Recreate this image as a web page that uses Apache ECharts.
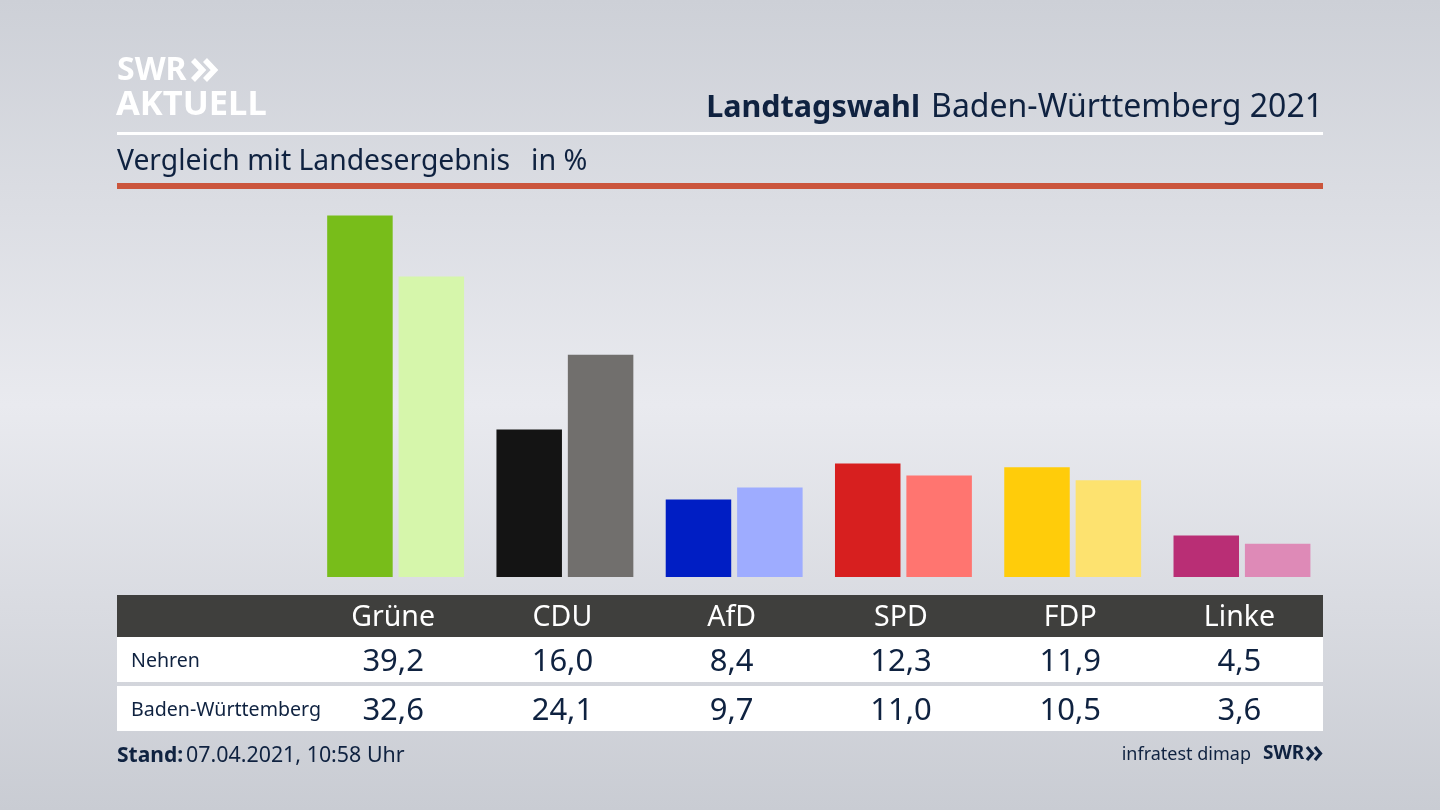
<!DOCTYPE html>
<html><head><meta charset="utf-8">
<style>html,body{margin:0;padding:0;background:#d8dae0}#c{width:1440px;height:810px}</style>
<script src="https://cdn.jsdelivr.net/npm/echarts@6/dist/echarts.min.js"></script>
</head><body><div id="c"></div>
<script>
const parties = ['Grüne','CDU','AfD','SPD','FDP','Linke'];
const nehren = [39.2,16.0,8.4,12.3,11.9,4.5];
const land = [32.6,24.1,9.7,11.0,10.5,3.6];
const nehrenColors = ['#78bd1a','#141414','#001ec4','#d71f1f','#ffcc0a','#b92e75'];
const landColors = ['#d6f6ab','#716f6d','#9eacff','#ff7570','#fde26f','#de8ab7'];
const rowNames = ['Nehren','Baden-Württemberg'];
const FONT = '"Noto Sans", sans-serif';
const NAVY = '#0f2240';
const fmt = v => v.toFixed(1).replace('.', ',');

const chart = echarts.init(document.getElementById('c'), null, {renderer:'canvas', width:1440, height:810});
const option = {
  animation:false,
  backgroundColor:{type:'linear',x:0,y:0,x2:0,y2:1,colorStops:[
    {offset:0,color:'#cdd0d7'},{offset:0.5,color:'#e9eaef'},{offset:1,color:'#c9ccd3'}]},
  grid:{left:311,right:113.4,top:208.2,bottom:233},
  xAxis:{type:'category',data:parties,show:false},
  yAxis:{type:'value',min:0,max:40,show:false},
  series:[
    {name:rowNames[0],type:'bar',barWidth:65.5,barGap:'9%',data:nehren.map((v,i)=>({value:v,itemStyle:{color:nehrenColors[i]}}))},
    {name:rowNames[1],type:'bar',barWidth:65.5,data:land.map((v,i)=>({value:v,itemStyle:{color:landColors[i]}}))}
  ]
};
chart.setOption(option);

const rect=(x,y,w,h,fill)=>({type:'rect',silent:true,shape:{x,y,width:w,height:h},style:{fill}});
const text=(t,x,y,size,fill,align,weight)=>({type:'text',silent:true,x,y,style:{text:t,fill,font:(weight||'normal')+' '+size+'px '+FONT,textAlign:align||'left',textVerticalAlign:'middle'}});
const chev=(x,y,h,w,color,lw)=>({type:'polyline',silent:true,shape:{points:[[x,y],[x+w,y+h/2],[x,y+h]]},style:{stroke:color,fill:null,lineWidth:lw}});

const els=[
  rect(117,132,1206,3,'#ffffff'),
  rect(117,183,1206,6,'#cb553c'),
  rect(117,595,1206,42,'#3f3f3d'),
  rect(117,637,1206,45,'#ffffff'),
  rect(117,686,1206,45,'#ffffff'),
  text('SWR',117,71,32,'#ffffff','left','bold'),
  chev(193,60,20,9.5,'#ffffff',5.5),
  chev(205,60,20,9.5,'#ffffff',5.5),
  text('AKTUELL',116,105,34.5,'#ffffff','left','bold'),
  text('Landtagswahl',920,108,30.5,NAVY,'right','bold'),
  text('Baden-Württemberg 2021',1323,108,32,NAVY,'right'),
  text('Vergleich mit Landesergebnis',117,162,28.3,NAVY),
  text('in %',531,162,28.7,NAVY),
  text(rowNames[0],131,661,19.6,NAVY),
  text(rowNames[1],131,710,19.6,NAVY),
  text('Stand:',117,756,21,NAVY,'left','bold'),
  text('07.04.2021, 10:58 Uhr',186,756,21.4,NAVY),
  text('infratest dimap',1251,755,18,NAVY,'right'),
  text('SWR',1263,754,19,NAVY,'left','bold'),
  chev(1307,747,13,5.5,NAVY,3.2),
  chev(1315,747,13,5.5,NAVY,3.2)
];
parties.forEach((p,i)=>{
  const cx = chart.convertToPixel({xAxisIndex:0},p) - 2.5;
  els.push(text(p,cx,618,28.5,'#ffffff','center'));
  els.push(text(fmt(nehren[i]),cx,662,31,NAVY,'center'));
  els.push(text(fmt(land[i]),cx,711,31,NAVY,'center'));
});
chart.setOption({graphic:{elements:els}});
</script></body></html>
